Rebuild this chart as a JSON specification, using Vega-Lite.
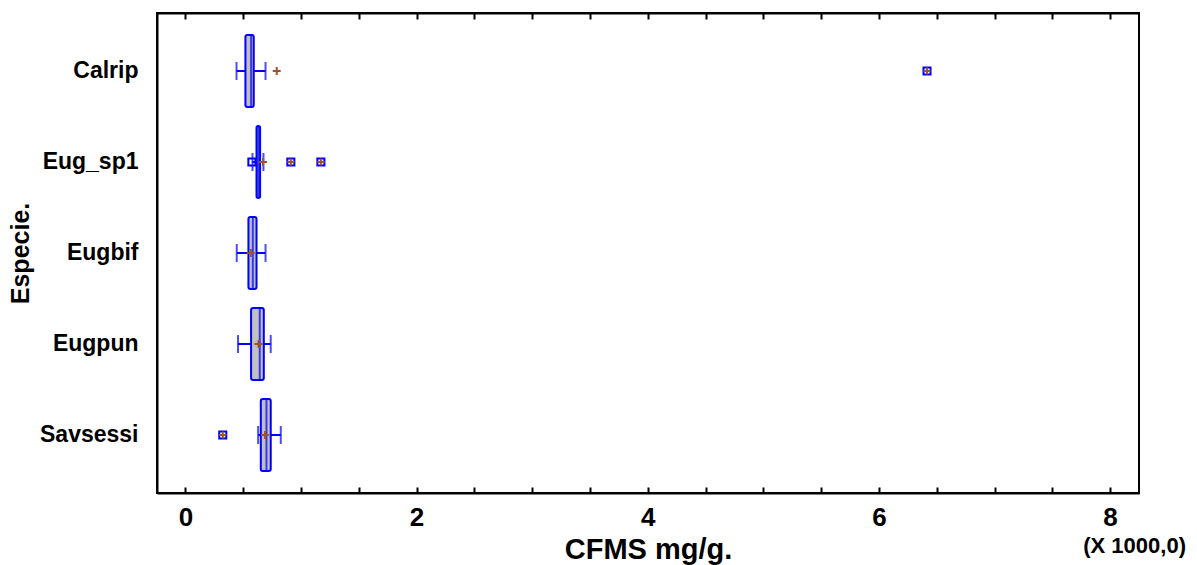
{
  "$schema": "https://vega.github.io/schema/vega-lite/v6.json",
  "autosize": "none",
  "width": 982,
  "height": 480,
  "padding": {"left": 157, "top": 13, "right": 58, "bottom": 72},
  "background": "white",
  "config": {
    "font": "Liberation Sans",
    "view": {"stroke": "black", "strokeWidth": 2},
    "axis": {"labelFont": "Liberation Sans", "titleFont": "Liberation Sans", "labelFontWeight": "bold", "titleFontWeight": "bold", "labelColor": "black", "titleColor": "black", "domainColor": "black", "tickColor": "black", "domainWidth": 2, "tickWidth": 2, "grid": false, "labelFlush": false, "labelOverlap": false}
  },
  "datasets": {
    "boxes": [
      {"Especie": "Calrip", "lo": 442, "q1": 519, "med": 568, "q3": 591, "hi": 693, "mean": 790},
      {"Especie": "Eug_sp1", "lo": 580, "q1": 615, "med": 630, "q3": 646, "hi": 675, "mean": 672},
      {"Especie": "Eugbif", "lo": 444, "q1": 545, "med": 583, "q3": 615, "hi": 693, "mean": 565},
      {"Especie": "Eugpun", "lo": 455, "q1": 568, "med": 643, "q3": 678, "hi": 738, "mean": 632},
      {"Especie": "Savsessi", "lo": 629, "q1": 652, "med": 701, "q3": 738, "hi": 825, "mean": 689}
    ],
    "outliers": [
      {"Especie": "Calrip", "v": 6416, "type": "far"},
      {"Especie": "Eug_sp1", "v": 575, "type": "near"},
      {"Especie": "Eug_sp1", "v": 912, "type": "far"},
      {"Especie": "Eug_sp1", "v": 1172, "type": "far"},
      {"Especie": "Savsessi", "v": 323, "type": "far"}
    ]
  },
  "layer": [
    {
      "data": {"name": "boxes"},
      "mark": {"type": "rule", "color": "#0000ff", "strokeWidth": 2},
      "encoding": {
        "y": {"field": "Especie", "type": "nominal", "sort": null,
          "scale": {"paddingInner": 0, "paddingOuter": 0.137},
          "axis": {"title": "Especie.", "ticks": false, "labelFontSize": 23, "titleFontSize": 25, "labelPadding": 19, "titlePadding": 6, "domain": true}},
        "x": {"field": "lo", "type": "quantitative",
          "scale": {"domain": [-246, 8250], "nice": false, "zero": false},
          "axis": {"orient": "bottom", "title": null, "labelFontSize": 26,
            "values": [0,500,1000,1500,2000,2500,3000,3500,4000,4500,5000,5500,6000,6500,7000,7500,8000],
            "labelExpr": "datum.value % 2000 === 0 ? format(datum.value / 1000, 'd') : ''",
            "tickSize": -6, "labelPadding": 17, "labelBaseline": "top"}},
        "x2": {"field": "hi"}
      }
    },
    {
      "data": {"name": "boxes"},
      "mark": {"type": "tick", "color": "#0000ff", "thickness": 2, "size": 18},
      "encoding": {
        "y": {"field": "Especie", "type": "nominal", "sort": null},
        "x": {"field": "lo", "type": "quantitative",
          "axis": {"orient": "top", "title": null, "labels": false,
            "values": [0,500,1000,1500,2000,2500,3000,3500,4000,4500,5000,5500,6000,6500,7000,7500,8000],
            "tickSize": -6}}
      }
    },
    {
      "data": {"name": "boxes"},
      "mark": {"type": "tick", "color": "#0000ff", "thickness": 2, "size": 18},
      "encoding": {
        "y": {"field": "Especie", "type": "nominal", "sort": null},
        "x": {"field": "hi", "type": "quantitative",
          "axis": {"orient": "bottom", "title": "CFMS mg/g.", "titleFontSize": 29, "ticks": false, "domain": false,
            "values": [8000], "labelExpr": "'(X 1000,0)'", "labelFontSize": 22, "labelPadding": 42, "labelOffset": 24, "labelBaseline": "top", "titlePadding": -21}}
      }
    },
    {
      "data": {"name": "boxes"},
      "mark": {"type": "bar", "fill": "#c0c0c0", "stroke": "#0000ff", "strokeWidth": 2, "size": 72, "cornerRadius": 2},
      "encoding": {
        "y": {"field": "Especie", "type": "nominal", "sort": null},
        "x": {"field": "q1", "type": "quantitative", "axis": null},
        "x2": {"field": "q3"}
      }
    },
    {
      "data": {"name": "boxes"},
      "mark": {"type": "tick", "color": "#0000ff", "thickness": 2, "size": 72},
      "encoding": {
        "y": {"field": "Especie", "type": "nominal", "sort": null},
        "x": {"field": "med", "type": "quantitative", "axis": null}
      }
    },
    {
      "data": {"name": "outliers"},
      "mark": {"type": "point", "shape": "square", "filled": false, "stroke": "#0000ff", "strokeWidth": 2, "size": 50, "opacity": 1},
      "encoding": {
        "y": {"field": "Especie", "type": "nominal", "sort": null},
        "x": {"field": "v", "type": "quantitative", "axis": null}
      }
    },
    {
      "data": {"name": "outliers"},
      "transform": [{"filter": "datum.type === 'far'"}],
      "mark": {"type": "point", "shape": "M-1,0H1M0,-1V1", "filled": false, "stroke": "#a0522d", "strokeWidth": 2, "size": 50, "opacity": 1},
      "encoding": {
        "y": {"field": "Especie", "type": "nominal", "sort": null},
        "x": {"field": "v", "type": "quantitative", "axis": null}
      }
    },
    {
      "data": {"name": "boxes"},
      "mark": {"type": "point", "shape": "M-1,0H1M0,-1V1", "filled": false, "stroke": "#a0522d", "strokeWidth": 2, "size": 64, "opacity": 1},
      "encoding": {
        "y": {"field": "Especie", "type": "nominal", "sort": null},
        "x": {"field": "mean", "type": "quantitative", "axis": null}
      }
    }
  ],
  "resolve": {"axis": {"x": "independent"}}
}
